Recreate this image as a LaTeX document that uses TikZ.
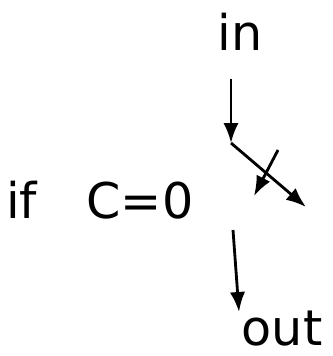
\documentclass[tikz,border=0pt]{standalone}
\usepackage{fontspec}
\usetikzlibrary{arrows.meta,positioning,calc}
\setmainfont{DejaVu Sans}

\begin{document}
\begin{tikzpicture}[x=0.03cm,y=-0.03cm,
      lbl/.style={font=\fontsize{42}{46}\selectfont,inner sep=0pt},
      arr/.style={-{Latex[length=6mm,width=4.6mm]},line width=2.4pt,draw=black}]
    \useasboundingbox (0,0) rectangle (333,356);
    \node[lbl,anchor=base] (in) at (240,50) {in};
    \node[lbl,anchor=base west] (cond) at (6,218) {if\quad C=0};
    \node[lbl,anchor=base] (out) at (282,345) {out};
    \coordinate (split) at (231,143);
    \coordinate (rend) at (306,207);
    \coordinate (bstart) at (278,150);
    \coordinate (bend) at (254,196);
    \coordinate (dstart) at (233,230);
    \coordinate (dend) at (239,312);
    \draw[arr,shorten <=8.5mm] (in.south -| split) -- (split);
    \draw[arr] (split) -- (rend);
    \draw[arr] (bstart) -- (bend);
    \draw[arr] (dstart) -- (dend);
  \end{tikzpicture}
\end{document}
